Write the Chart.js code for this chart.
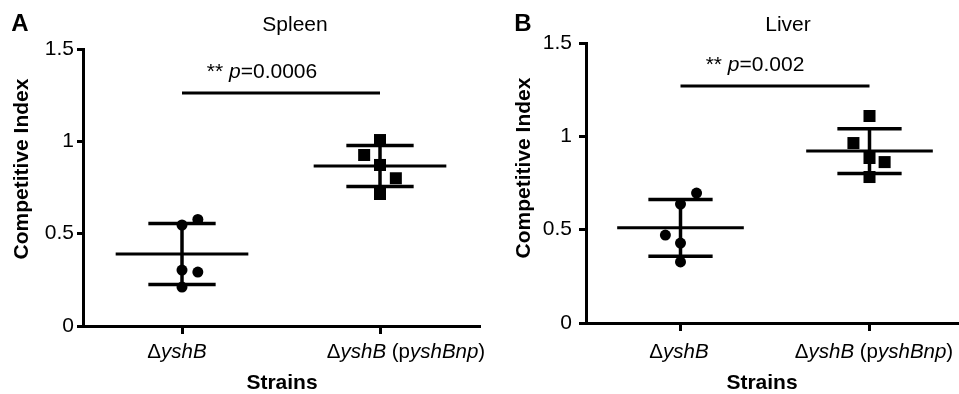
<!DOCTYPE html>
<html>
<head>
<meta charset="utf-8">
<script src="https://cdn.jsdelivr.net/npm/chart.js@4.4.1/dist/chart.umd.min.js"></script>
<style>
  html, body { margin: 0; padding: 0; background: #fff; overflow: hidden; }
  #wrap { position: relative; width: 959px; height: 394px; overflow: hidden; }
  .panel { position: absolute; top: 0; height: 394px; }
</style>
</head>
<body>
<div id="wrap">
  <div class="panel" style="left:0;width:500px"><canvas id="spleen" width="500" height="394"></canvas></div>
  <div class="panel" style="left:480px;width:484px"><canvas id="liver" width="484" height="394"></canvas></div>
</div>
<script>
// the two strains sit at 0.5 and 1.5 on a 0..2 axis
const groupX = [0.5, 1.5];
// [text, italic]
const strainLabels = [
  [['Δ', 0], ['yshB', 1]],
  [['Δ', 0], ['yshB', 1], [' (p', 0], ['yshBnp', 1], [')', 0]]
];
const yTicks = [0, 0.5, 1, 1.5];

// Spleen
const spleenDeltaX = [0.5, 0.58, 0.5, 0.58, 0.5];
const spleenDeltaY = [0.547, 0.577, 0.303, 0.292, 0.211];
const spleenCompX = [1.5, 1.42, 1.5, 1.58, 1.5];
const spleenCompY = [1.007, 0.926, 0.872, 0.80, 0.715];
const spleenMean = [0.39, 0.866];
const spleenSD = [0.165, 0.111];
const spleenBarY = 1.262;
const spleenP = '0.0006';

// Liver
const liverDeltaX = [0.5, 0.585, 0.42, 0.5, 0.5];
const liverDeltaY = [0.637, 0.696, 0.471, 0.428, 0.327];
const liverCompX = [1.5, 1.415, 1.5, 1.58, 1.5];
const liverCompY = [1.109, 0.964, 0.884, 0.862, 0.782];
const liverMean = [0.51, 0.921];
const liverSD = [0.152, 0.12];
const liverBarY = 1.27;
const liverP = '0.002';

const FONT = '"Liberation Sans", Arial, Helvetica, sans-serif';
const MEAN_HALF = 0.335;   // half width of mean line (x units)
const CAP_HALF = 0.17;     // half width of SD caps
Chart.defaults.font.family = FONT;
Chart.defaults.color = '#000';

function drawRich(ctx, parts, cx, cy, size) {
  const fonts = parts.map(p => (p[1] ? 'italic ' : '') + size + 'px ' + FONT);
  let total = 0;
  const widths = parts.map((p, i) => { ctx.font = fonts[i]; const w = ctx.measureText(p[0]).width; total += w; return w; });
  let x = cx - total / 2;
  ctx.textAlign = 'left';
  parts.forEach((p, i) => { ctx.font = fonts[i]; ctx.fillText(p[0], x, cy); x += widths[i]; });
}

const overlay = {
  id: 'overlay',
  afterDraw(chart, args, o) {
    const { ctx, scales: { x, y } } = chart;
    ctx.save();
    ctx.fillStyle = '#000';
    ctx.textBaseline = 'middle';
    ctx.textAlign = 'center';
    ctx.font = 'bold 24px ' + FONT;
    ctx.fillText(o.letter, o.letterX, 24);
    ctx.font = '21px ' + FONT;
    ctx.fillText(o.title, o.titleX, 25);
    ctx.font = 'bold 21px ' + FONT;
    ctx.fillText('Strains', o.xTitleX, 383);
    ctx.save();
    ctx.translate(o.yTitleX, o.yTitleY);
    ctx.rotate(-Math.PI / 2);
    ctx.fillText('Competitive Index', 0, 0);
    ctx.restore();
    strainLabels.forEach((parts, i) => drawRich(ctx, parts, x.getPixelForValue(groupX[i]) + o.labelShift[i], 352, 20.5));
    const mid = (x.getPixelForValue(groupX[0]) + x.getPixelForValue(groupX[1])) / 2;
    drawRich(ctx, [['** ', 0], ['p', 1], ['=' + o.p, 0]], mid + o.pShift, y.getPixelForValue(o.barY) - 20.5, 21);
    ctx.restore();
  }
};

function seg(x1, y1, x2, y2, w) {
  return {
    data: [{ x: x1, y: y1 }, { x: x2, y: y2 }],
    showLine: true, borderColor: '#000', borderWidth: w,
    pointRadius: 0, pointHoverRadius: 0, borderCapStyle: 'butt'
  };
}

function makePanel(id, cfg, dx, dy, cx, cy, mean, sd, barY, p) {
  const datasets = [
    { data: dx.map((v, i) => ({ x: v, y: dy[i] })), pointStyle: 'circle', pointRadius: 5.5,
      backgroundColor: '#000', borderColor: '#000', borderWidth: 0 },
    { data: cx.map((v, i) => ({ x: v, y: cy[i] })), pointStyle: 'rect', pointRadius: 8.5,
      backgroundColor: '#000', borderColor: '#000', borderWidth: 0 }
  ];
  groupX.forEach((gx, i) => {
    datasets.push(seg(gx - MEAN_HALF, mean[i], gx + MEAN_HALF, mean[i], 3));
    datasets.push(seg(gx, mean[i] - sd[i], gx, mean[i] + sd[i], 3.5));
    datasets.push(seg(gx - CAP_HALF, mean[i] + sd[i], gx + CAP_HALF, mean[i] + sd[i], 3.5));
    datasets.push(seg(gx - CAP_HALF, mean[i] - sd[i], gx + CAP_HALF, mean[i] - sd[i], 3.5));
  });
  datasets.push(seg(groupX[0], barY, groupX[1], barY, 3));

  return new Chart(document.getElementById(id), {
    type: 'scatter',
    data: { datasets },
    plugins: [overlay],
    options: {
      responsive: false,
      animation: false,
      events: [],
      layout: { autoPadding: false, padding: { top: cfg.top, right: cfg.right, bottom: 0, left: 0 } },
      plugins: {
        legend: { display: false },
        tooltip: { enabled: false },
        overlay: {
          letter: cfg.letter, letterX: cfg.letterX, title: cfg.title, titleX: cfg.titleX,
          xTitleX: cfg.xTitleX, yTitleX: cfg.yTitleX, yTitleY: cfg.yTitleY,
          labelShift: cfg.labelShift, pShift: cfg.pShift, p, barY
        }
      },
      scales: {
        x: {
          type: 'linear', min: 0, max: 2,
          afterBuildTicks: s => { s.ticks = groupX.map(v => ({ value: v })); },
          ticks: { display: false },
          grid: { drawOnChartArea: false, color: '#000', lineWidth: 3, tickLength: 8 },
          border: { color: '#000', width: 3 },
          afterFit: s => { s.height = 394 - cfg.bottom; }
        },
        y: {
          min: 0, max: 1.5,
          afterBuildTicks: s => { s.ticks = yTicks.map(v => ({ value: v })); },
          ticks: { font: { size: 21 }, padding: cfg.tickPad, callback: v => String(v) },
          grid: { drawOnChartArea: false, color: '#000', lineWidth: 3, tickLength: cfg.tickLen },
          border: { color: '#000', width: 3 },
          afterFit: s => { s.width = cfg.axisLeft; }
        }
      }
    }
  });
}

makePanel('spleen',
  { top: 49, bottom: 326, right: 21, axisLeft: 83, tickPad: 3, tickLen: 6,
    letter: 'A', letterX: 20, title: 'Spleen', titleX: 295, xTitleX: 282, yTitleX: 22, yTitleY: 169,
    labelShift: [-5, 26], pShift: -19 },
  spleenDeltaX, spleenDeltaY, spleenCompX, spleenCompY, spleenMean, spleenSD, spleenBarY, spleenP);

makePanel('liver',
  { top: 43, bottom: 323, right: 0, axisLeft: 106, tickPad: 7, tickLen: 7,
    letter: 'B', letterX: 43, title: 'Liver', titleX: 308, xTitleX: 282, yTitleX: 44, yTitleY: 168,
    labelShift: [-1.5, 4.5], pShift: -20 },
  liverDeltaX, liverDeltaY, liverCompX, liverCompY, liverMean, liverSD, liverBarY, liverP);
</script>
</body>
</html>
